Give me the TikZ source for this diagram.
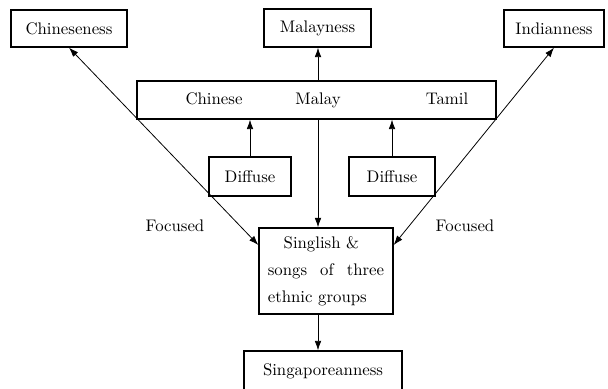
\documentclass[tikz,border=0pt]{standalone}
\usetikzlibrary{arrows.meta}
\begin{document}
\begin{tikzpicture}[x=0.632pt,y=-0.632pt,>={Latex[length=6pt,width=4.2pt]},
  font=\fontsize{10.6pt}{13pt}\selectfont,
  box/.style={draw,line width=0.8pt,inner sep=0pt},
  link/.style={line width=0.5pt},
  label/.style={text height=1.6ex,text depth=0.3ex}]
\useasboundingbox (0,0) rectangle (608,388);
\node[box,minimum width=73.3pt,minimum height=23.4pt] (chineseness) at (69,28.5) {Chineseness};
\node[box,minimum width=67.6pt,minimum height=24pt] (malayness) at (317.5,28) {Malayness};
\node[box,minimum width=63.2pt,minimum height=23.4pt] (indianness) at (554,28.5) {Indianness};
\node[box,minimum width=226.9pt,minimum height=24pt] (languages) at (316.5,100) {};
\node[label] (chinese) at (214,100) {Chinese};
\node[label] (malay) at (318,100) {Malay};
\node[label] (tamil) at (447,100) {Tamil};
\node[box,minimum width=51.8pt,minimum height=24.6pt] (diffuseleft) at (250,176.5) {Diffuse};
\node[box,minimum width=54.4pt,minimum height=24.6pt] (diffuseright) at (392,176.5) {Diffuse};
\node (focusedleft) at (175,226) {Focused};
\node (focusedright) at (465,226) {Focused};
\node[box,minimum width=84.7pt,minimum height=54.4pt,text width=73.5pt,align=left,
  font=\fontsize{10.6pt}{17pt}\selectfont] (singlish) at (326,271)
  {\hspace*{10pt}Singlish \&\\\makebox[73.5pt][l]{songs\hfill of\hfill three}\\ethnic groups};
\node[box,minimum width=99.9pt,minimum height=25.3pt] (singaporeanness) at (323,371) {Singaporeanness};
\draw[link,->] (languages.north -| malay) -- (malayness.south -| malay);
\draw[link,->] (diffuseleft.north) -- (languages.south -| diffuseleft.north);
\draw[link,->] (diffuseright.north) -- (languages.south -| diffuseright.north);
\draw[link,->] (languages.south -| malay) -- (singlish.north -| malay);
\draw[link,<->] (chineseness.south) -- (singlish.159);
\draw[link,<->] (indianness.south) -- (singlish.21);
\draw[link,->] (singlish.south -| malay) -- (singaporeanness.north -| malay);
\end{tikzpicture}
\end{document}
